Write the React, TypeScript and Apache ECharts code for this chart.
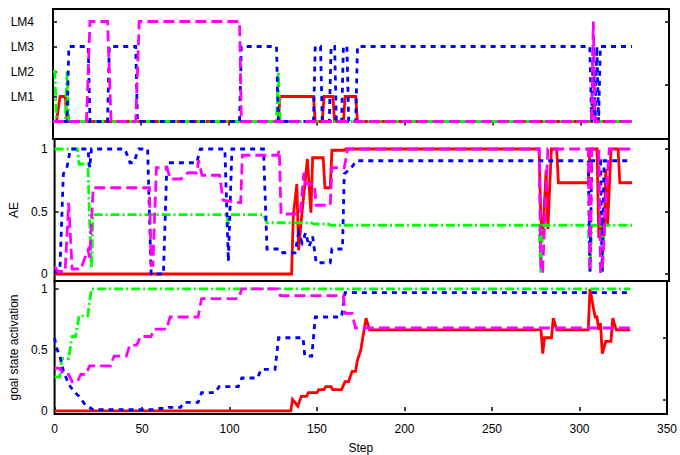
import React, { useEffect, useRef } from "react";
import * as echarts from "echarts";

const FONT = "'Liberation Sans', Arial, Helvetica, sans-serif";

// x axis
const xTickValues = [0, 50, 100, 150, 200, 250, 300, 350];
// panel 1: language module index (0 = none)
const lmTickValues = [1, 2, 3, 4];
const lmRightTicks = [1.47, 4];
const lmRed = [[0,0],[2,0],[4,1],[7,1],[8,0],[128,0],[129,1],[148,1],[149,0],[153,0],[154,1],[159,1],[160,0],[165,0],[166,1],[172,1],[173,0],[306,0],[307,0.8],[308,0.2],[309,0],[329,0]];
const lmGreen = [[0,2],[1,2],[2,0],[7,0],[8,2],[9,0],[127,0],[128,2],[129,0],[329,0]];
const lmBlue = [[0,0],[8,0],[9,3],[20,3],[21,0],[31,0],[32,3],[47,3],[48,0],[106,0],[107,3],[127,3],[128,0],[148,0],[149,3],[152,3],[153,0],[157,0],[158,3],[160,3],[161,0],[164,0],[165,3],[167,3],[168,0],[172,0],[173,3],[305,3],[306,0],[307,3],[308,0],[309,3],[310,0],[311,3],[329,3]];
const lmMagenta = [[0,0],[19,0],[21,4],[31,4],[33,0],[47,0],[49,4],[106,4],[107,0],[306,0],[307,4],[308,0],[329,0]];

// panel 2: AE
const aeTickValues = [0, 0.5, 1];
const aeRed = [[0,0],[135,0],[136,0.47],[138,0.72],[139,0.19],[141,0.5],[144,0.92],[146,0.49],[147,0.93],[153,0.93],[154,0.69],[157,0.69],[158,0.99],[165,0.99],[166,1],[276,1],[277,0.44],[278,0.28],[280,0.83],[281,0.36],[283,1],[286,1],[287,0.73],[304,0.73],[305,1],[309,1],[310,0.3],[311,0.3],[312,0.45],[313,0.3],[314,0.84],[315,0.39],[317,1],[321,1],[322,0.73],[329,0.73]];
const aeGreen = [[0,1],[13,1],[14,0.88],[19,0.88],[20,0.4],[21,0.05],[22,0.475],[98,0.475],[99,0.4],[100,0.475],[119,0.475],[121,0.41],[146,0.41],[148,0.4],[156,0.4],[157,0.39],[276,0.39],[277,0.01],[278,0.39],[304,0.39],[305,0.02],[306,0.39],[311,0.39],[312,0.02],[313,0.39],[329,0.39]];
const aeBlue = [[0,0.02],[3,0.02],[5,0.8],[7,0.85],[9,1],[19,1],[20,0.85],[21,1],[40,1],[43,0.89],[45,0.89],[48,1],[53,1],[55,0],[62,0],[64,0.89],[81,0.89],[83,1],[97,1],[99,0.1],[101,1],[119,1],[121,0.2],[129,0.2],[130,0.17],[137,0.17],[139,0.33],[141,0.25],[143,0.33],[145,0.22],[147,0.3],[149,0.09],[157,0.09],[158,0.2],[164,0.2],[165,0.8],[169,0.85],[172,0.906],[304,0.906],[305,0.02],[306,0.906],[311,0.906],[312,0.02],[313,0.906],[329,0.906]];
const aeMagenta = [[0,0.06],[2,0.02],[6,0.02],[8,0.57],[10,0.04],[15,0.04],[17,0.12],[19,0.19],[20,0.13],[22,0.69],[54,0.69],[55,0.07],[56,0.07],[58,0.85],[64,0.85],[66,0.76],[72,0.76],[74,0.79],[76,0.81],[81,0.81],[82,0.91],[84,0.79],[94,0.79],[96,0.59],[106,0.57],[107,0.95],[127,0.95],[128,0.99],[129,0.48],[140,0.48],[142,0.81],[143,0.72],[148,0.72],[149,0.55],[157,0.55],[158,0.85],[165,0.85],[167,1],[276,1],[277,0.02],[278,0.02],[281,1],[304,1],[305,0.02],[306,1],[310,1],[311,0.02],[312,0.02],[314,0.6],[316,1],[329,1]];

// panel 3: goal state activation
const goalTickValues = [0, 0.5, 1];
const goalRightTicks = [0.094, 0.6];
const goalRed = [[0,0],[135,0],[136,0.095],[139,0.04],[141,0.12],[144,0.12],[145,0.15],[150,0.15],[151,0.175],[154,0.175],[155,0.2],[158,0.2],[159,0.175],[164,0.175],[166,0.24],[168,0.24],[170,0.325],[172,0.325],[173,0.41],[175,0.5],[178,0.76],[180,0.665],[278,0.665],[279,0.47],[280,0.6],[284,0.6],[285,0.76],[287,0.665],[305,0.665],[306,1],[308,0.84],[309,0.77],[310,0.77],[311,0.665],[312,0.72],[313,0.47],[315,0.57],[318,0.57],[319,0.76],[321,0.665],[329,0.665]];
const goalGreen = [[0,0.28],[3,0.28],[4,0.43],[8,0.43],[10,0.61],[12,0.61],[14,0.78],[19,0.78],[21,1],[329,1]];
const goalBlue = [[0,0.6],[1,0.52],[3,0.45],[5,0.33],[8,0.22],[11,0.16],[14,0.12],[17,0.06],[20,0.03],[22,0.01],[56,0.01],[58,0.02],[63,0.02],[65,0.03],[72,0.03],[74,0.07],[82,0.07],[84,0.15],[92,0.15],[94,0.2],[105,0.2],[107,0.27],[116,0.27],[118,0.34],[126,0.34],[128,0.6],[142,0.6],[143,0.45],[147,0.45],[149,0.77],[164,0.77],[166,0.97],[329,0.97]];
const goalMagenta = [[0,0.35],[3,0.35],[5,0.3],[8,0.3],[10,0.24],[13,0.24],[15,0.3],[18,0.3],[20,0.37],[32,0.37],[34,0.45],[41,0.45],[43,0.54],[47,0.54],[49,0.61],[55,0.61],[57,0.67],[64,0.67],[66,0.77],[82,0.77],[84,0.92],[105,0.92],[107,1],[128,1],[129,0.945],[165,0.945],[166,0.8],[170,0.8],[172,0.68],[329,0.68]];

const RED = "#ff0000";
const GREEN = "#00ff00";
const BLUE = "#0000ff";
const MAGENTA = "#ff00ff";
const LW = 2.8;
const DASH_GREEN = [9, 3, 2, 3];
const DASH_BLUE = [5, 5];
const DASH_MAGENTA = [11, 5];

function line(data: number[][], color: string, dash: any, xi: number, yi: number) {
  return {
    type: "line",
    data,
    xAxisIndex: xi,
    yAxisIndex: yi,
    showSymbol: false,
    symbol: "none",
    silent: true,
    lineStyle: { color, width: LW, type: dash, cap: "butt", join: "miter" },
    itemStyle: { color },
  };
}

const tickStyle = { color: "#000", width: 1.5 };
const labelStyle = { color: "#000", fontSize: 12, fontFamily: FONT };

function xAxis(gridIndex: number, opts: any) {
  return {
    type: "value",
    gridIndex,
    min: 0,
    max: 350,
    interval: 50,
    axisLine: { show: false },
    splitLine: { show: false },
    axisTick: { show: false, inside: true, length: 4, lineStyle: tickStyle },
    axisLabel: { show: false },
    ...opts,
  };
}

function yAxis(gridIndex: number, min: number, max: number, position: string, ticks: number[], opts: any) {
  return {
    type: "value",
    gridIndex,
    min,
    max,
    position,
    axisLine: { show: false },
    splitLine: { show: false },
    axisTick: { show: true, inside: true, length: 4, lineStyle: tickStyle, customValues: ticks },
    axisLabel: { show: false },
    ...opts,
  };
}

export default function App() {
  const ref = useRef<HTMLDivElement>(null);
  useEffect(() => {
    if (!ref.current) return;
    const chart = echarts.init(ref.current, null, { renderer: "svg" });
    const gridBase = { left: 53, right: 11, show: true, borderColor: "#000", borderWidth: 2, backgroundColor: "transparent" };
    chart.setOption({
      animation: false,
      backgroundColor: "#fff",
      grid: [
        { ...gridBase, top: 9, height: 130 },
        { ...gridBase, top: 139, height: 142 },
        { ...gridBase, top: 281, height: 133 },
      ],
      xAxis: [
        xAxis(0, { position: "top", axisTick: { show: true, inside: true, length: 4, lineStyle: tickStyle } }),
        xAxis(1, {}),
        xAxis(2, {
          position: "bottom",
          axisTick: { show: true, inside: true, length: 4, lineStyle: tickStyle, customValues: xTickValues },
          axisLabel: { show: true, margin: 9, customValues: xTickValues, ...labelStyle },
          name: "Step",
          nameLocation: "middle",
          nameGap: 28,
          nameTextStyle: labelStyle,
        }),
      ],
      yAxis: [
        yAxis(0, -0.7, 4.5, "left", lmTickValues, {
          axisLabel: {
            show: true,
            customValues: lmTickValues,
            margin: 19,
            formatter: (v: number) => "LM" + Math.round(v),
            ...labelStyle,
          },
        }),
        yAxis(0, -0.7, 4.5, "right", lmRightTicks, {}),
        yAxis(1, -0.056, 1.08, "left", aeTickValues, {
          axisLabel: { show: true, customValues: aeTickValues, margin: 7, formatter: (v: number) => String(v), ...labelStyle },
          name: "AE",
          nameLocation: "middle",
          nameGap: 33,
          nameTextStyle: labelStyle,
        }),
        yAxis(1, -0.056, 1.08, "right", aeTickValues, {}),
        yAxis(2, -0.025, 1.065, "left", goalTickValues, {
          axisLabel: { show: true, customValues: goalTickValues, margin: 7, formatter: (v: number) => String(v), ...labelStyle },
          name: "goal state activation",
          nameLocation: "middle",
          nameGap: 24,
          nameTextStyle: labelStyle,
        }),
        yAxis(2, -0.025, 1.065, "right", goalRightTicks, {}),
      ],
      series: [
        line(lmRed, RED, "solid", 0, 0),
        line(lmGreen, GREEN, DASH_GREEN, 0, 0),
        line(lmBlue, BLUE, DASH_BLUE, 0, 0),
        line(lmMagenta, MAGENTA, DASH_MAGENTA, 0, 0),
        line(aeRed, RED, "solid", 1, 2),
        line(aeGreen, GREEN, DASH_GREEN, 1, 2),
        line(aeBlue, BLUE, DASH_BLUE, 1, 2),
        line(aeMagenta, MAGENTA, DASH_MAGENTA, 1, 2),
        line(goalRed, RED, "solid", 2, 4),
        line(goalGreen, GREEN, DASH_GREEN, 2, 4),
        line(goalBlue, BLUE, DASH_BLUE, 2, 4),
        line(goalMagenta, MAGENTA, DASH_MAGENTA, 2, 4),
      ],
    });
    return () => chart.dispose();
  }, []);
  return (
    <div
      ref={ref}
      style={{ position: "absolute", left: 0, top: 0, width: 680, height: 455, background: "#fff" }}
    />
  );
}
